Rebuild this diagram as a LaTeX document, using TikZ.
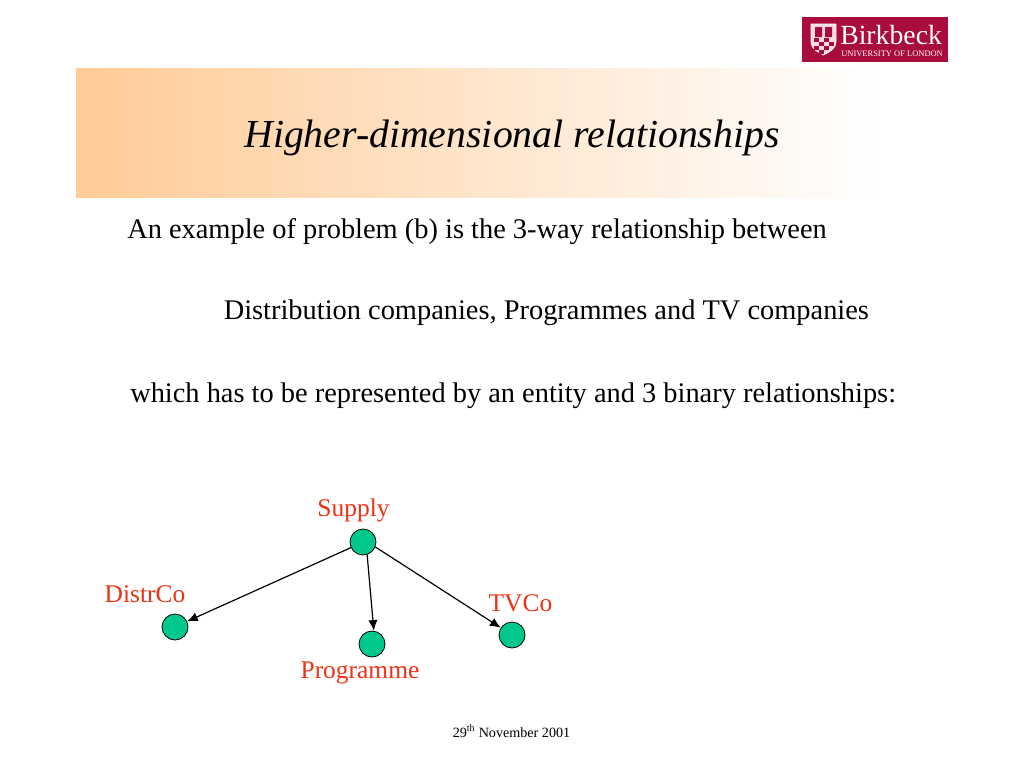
\documentclass[tikz,border=0pt]{standalone}
\usepackage{fontspec}
\setmainfont{Liberation Serif}
\usetikzlibrary{arrows.meta}
\definecolor{bandorange}{RGB}{255,203,150}
\definecolor{logored}{RGB}{170,12,62}
\definecolor{dotgreen}{RGB}{0,200,140}
\definecolor{labelred}{RGB}{240,50,20}
\tikzset{
    dot/.style={circle,draw=black,fill=dotgreen,line width=0.6pt,minimum size=19.5pt,inner sep=0pt},
    lbl/.style={text=labelred,font=\fontsize{19.1}{21}\selectfont,inner sep=0pt},
    body/.style={font=\fontsize{21.3}{25}\selectfont,inner sep=0pt,anchor=base west},
    link/.style={-{Latex[length=8pt,width=7pt]},line width=0.9pt}
}
\begin{document}
\begin{tikzpicture}[x=0.75pt,y=-0.75pt]
    \useasboundingbox (0,0) rectangle (1024,768);
    \fill[white] (0,0) rectangle (1024,768);

    % title band
    \shade[left color=bandorange,right color=white] (76,68) rectangle (880,197);
    \node[font=\itshape\fontsize{29.8}{33}\selectfont,inner sep=0pt] (title) at (512,138) {Higher-dimensional relationships};

    % logo
    \fill[logored] (802,17) rectangle (948,62);
    \draw[white,line width=0.5pt,fill=white!85!logored] (811,24)--(836,24)--(836,42) .. controls (836,49) and (829,52) .. (823.5,55) .. controls (818,52) and (811,49) .. (811,42)--cycle;
    \fill[logored] (815,27)--(822,27)--(822,37)--(815,37)--cycle (825,27)--(832,27)--(832,37)--(825,37)--cycle;
    \foreach \i/\j in {0/0,2/0,1/1,3/1,0/2,2/2,1/3}
        \fill[logored] (814+5*\i,38+4*\j) rectangle ++(5,4);
    \node[text=white,font=\fontsize{20.8}{22}\selectfont,inner sep=0pt,anchor=base west] (logoname) at (840,44) {Birkbeck};
    \node[text=white,font=\fontsize{6.35}{7}\selectfont,inner sep=0pt,anchor=base west] (logouni) at (841,56) {UNIVERSITY OF LONDON};

    % text
    \node[body] (line1) at (127,238) {An example of problem (b) is the 3-way relationship between};
    \node[body] (line2) at (223.5,319) {Distribution companies, Programmes and TV companies};
    \node[body] (line3) at (130,402) {which has to be represented by an entity and 3 binary relationships:};

    % entities
    \node[dot] (supply) at (363,542) {};
    \node[dot] (distrco) at (175,627) {};
    \node[dot] (programme) at (372,644) {};
    \node[dot] (tvco) at (512,635) {};

    \node[lbl] (supplylbl) at (353.5,510) {Supply};
    \node[lbl] (distrlbl) at (145,594) {DistrCo};
    \node[lbl] (proglbl) at (360,673) {Programme};
    \node[lbl] (tvlbl) at (520.5,603) {TVCo};

    \draw[link] (supply.205) -- (distrco.25);
    \draw[link] (supply.-72) -- (programme.82);
    \draw[link] (supply.-22) -- (tvco.147);

    % footer
    \node[font=\fontsize{10.6}{12}\selectfont,inner sep=0pt] (date) at (511.5,731) {29\textsuperscript{th} November 2001};
\end{tikzpicture}
\end{document}
